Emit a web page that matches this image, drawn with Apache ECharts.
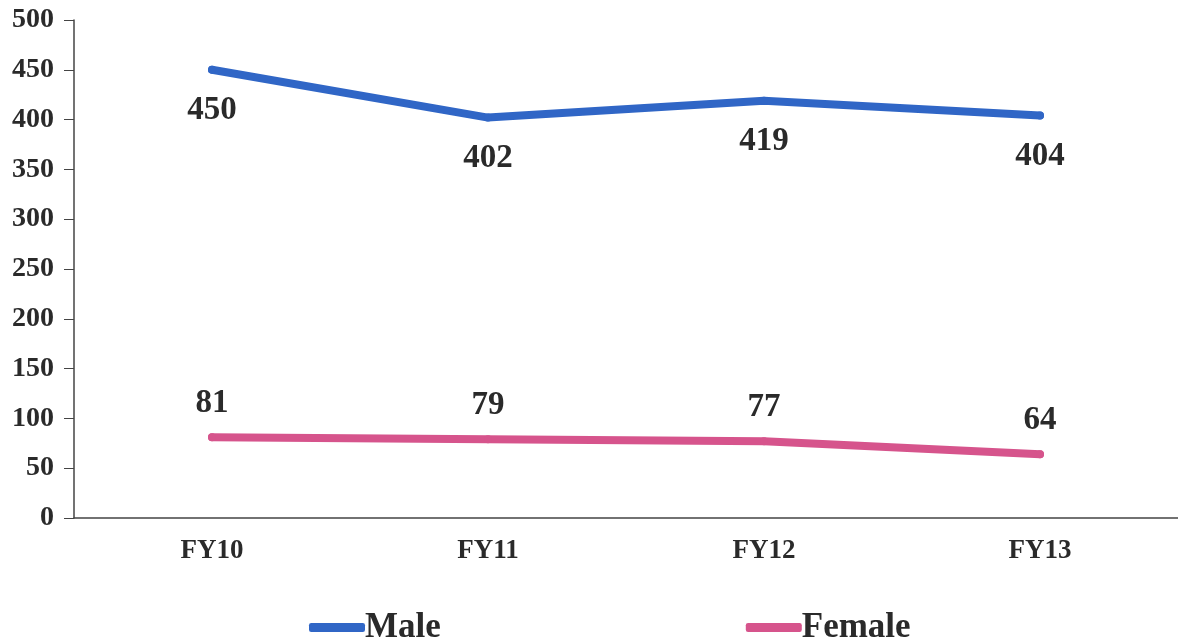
<!DOCTYPE html>
<html>
<head>
<meta charset="utf-8">
<script src="https://cdn.jsdelivr.net/npm/echarts@6/dist/echarts.min.js"></script>
<style>
  html, body { margin: 0; padding: 0; background: #fff; }
  #chart { width: 1178px; height: 644px; }
</style>
</head>
<body>
<div id="chart"></div>
<script>
const years = ['FY10', 'FY11', 'FY12', 'FY13']
const male = [450, 402, 419, 404]
const female = [81, 79, 77, 64]

const serif = 'Liberation Serif'
const textColor = '#2a2a2a'

const chart = echarts.init(document.getElementById('chart'))

function dataLabel(position, distance) {
  return {
    show: true,
    position: position,
    distance: distance,
    fontFamily: serif,
    fontWeight: 'bold',
    fontSize: 33,
    color: textColor
  }
}

chart.setOption({
  animation: false,
  grid: { left: 74, right: -3, top: 20, bottom: 126 },
  legend: {
    bottom: -6,
    left: 304,
    itemGap: 305,
    itemWidth: 56,
    itemHeight: 9,
    icon: 'roundRect',
    textStyle: { fontFamily: serif, fontWeight: 'bold', fontSize: 35, color: textColor, padding: [6, 0, 0, -5] },
    data: ['Male', 'Female']
  },
  xAxis: {
    type: 'category',
    data: years,
    axisLine: { lineStyle: { color: '#444', width: 1.5 } },
    axisTick: { length: 6, lineStyle: { color: '#444' } },
    axisLabel: { fontFamily: serif, fontWeight: 'bold', fontSize: 27, color: textColor, margin: 20 }
  },
  yAxis: {
    type: 'value',
    min: 0,
    max: 500,
    interval: 50,
    axisLine: { show: true, lineStyle: { color: '#444', width: 1.5 } },
    axisTick: { show: true, length: 10, lineStyle: { color: '#444' } },
    splitLine: { show: false },
    axisLabel: { fontFamily: serif, fontWeight: 'bold', fontSize: 28, color: textColor, margin: 20 }
  },
  series: [
    {
      name: 'Male',
      type: 'line',
      data: male,
      symbol: 'circle',
      symbolSize: 8,
      showSymbol: true,
      color: '#3066c6',
      itemStyle: { color: '#3066c6' },
      lineStyle: { width: 8, cap: 'round', join: 'round', color: '#3066c6' },
      label: dataLabel('bottom', 20)
    },
    {
      name: 'Female',
      type: 'line',
      data: female,
      symbol: 'circle',
      symbolSize: 8,
      showSymbol: true,
      color: '#d6548c',
      itemStyle: { color: '#d6548c' },
      lineStyle: { width: 8, cap: 'round', join: 'round', color: '#d6548c' },
      label: dataLabel('top', 13)
    }
  ]
})
</script>
</body>
</html>
